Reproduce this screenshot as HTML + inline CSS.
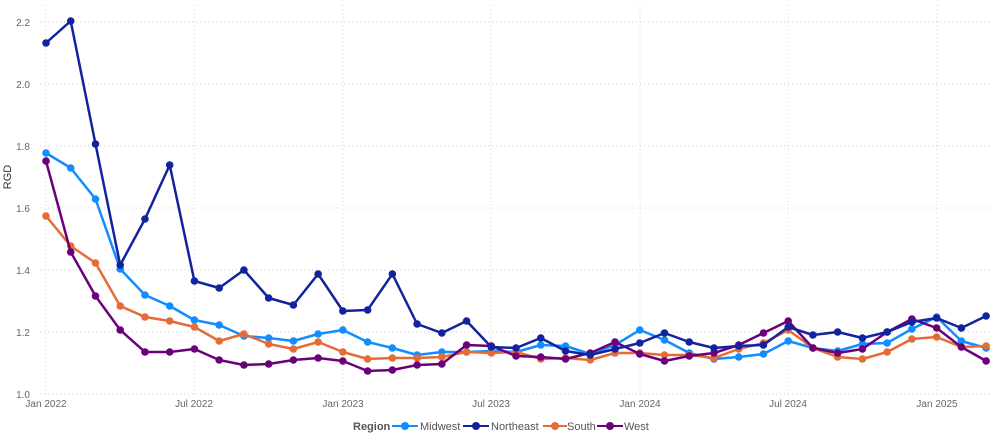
<!DOCTYPE html>
<html><head><meta charset="utf-8"><style>
body{margin:0;background:#fff;}
svg{display:block;font-family:"Liberation Sans",sans-serif;}
</style></head><body>
<svg id="c" width="1000" height="443" viewBox="0 0 1000 443">
<g stroke="#d0d0d0" stroke-dasharray="1,3" stroke-width="1">
<line x1="40" x2="992" y1="394" y2="394"/><line x1="40" x2="992" y1="332" y2="332"/><line x1="40" x2="992" y1="270" y2="270"/><line x1="40" x2="992" y1="208" y2="208"/><line x1="40" x2="992" y1="146" y2="146"/><line x1="40" x2="992" y1="84" y2="84"/><line x1="40" x2="992" y1="22" y2="22"/>
<line x1="46" x2="46" y1="5" y2="394"/><line x1="194" x2="194" y1="5" y2="394"/><line x1="343" x2="343" y1="5" y2="394"/><line x1="491" x2="491" y1="5" y2="394"/><line x1="640" x2="640" y1="5" y2="394"/><line x1="788" x2="788" y1="5" y2="394"/><line x1="937" x2="937" y1="5" y2="394"/>
</g>
<g fill="#666" font-size="10" text-anchor="end">
<text x="30" y="398">1.0</text><text x="30" y="336">1.2</text><text x="30" y="274">1.4</text><text x="30" y="212">1.6</text><text x="30" y="150">1.8</text><text x="30" y="88">2.0</text><text x="30" y="26">2.2</text>
</g>
<g fill="#666" font-size="10" text-anchor="middle">
<text x="46" y="407">Jan 2022</text><text x="194" y="407">Jul 2022</text><text x="343" y="407">Jan 2023</text><text x="491" y="407">Jul 2023</text><text x="640" y="407">Jan 2024</text><text x="788" y="407">Jul 2024</text><text x="937" y="407">Jan 2025</text>
</g>
<text transform="translate(11,177) rotate(-90)" font-size="11" fill="#333" text-anchor="middle">RGD</text>
<g id="series"></g>
<g font-size="11">
<text x="353" y="430" font-weight="bold" fill="#555">Region</text>
<line x1="392" x2="418" y1="426" y2="426" stroke="#118DFF" stroke-width="2"/><circle cx="405" cy="426" r="4" fill="#118DFF"/><text x="420" y="430" fill="#555">Midwest</text>
<line x1="463" x2="489" y1="426" y2="426" stroke="#12239E" stroke-width="2"/><circle cx="476" cy="426" r="4" fill="#12239E"/><text x="491" y="430" fill="#555">Northeast</text>
<line x1="543" x2="567" y1="426" y2="426" stroke="#E66C37" stroke-width="2"/><circle cx="555" cy="426" r="4" fill="#E66C37"/><text x="567" y="430" fill="#555">South</text>
<line x1="597" x2="623" y1="426" y2="426" stroke="#6B007B" stroke-width="2"/><circle cx="610" cy="426" r="4" fill="#6B007B"/><text x="624" y="430" fill="#555">West</text>
</g>
</svg>
<script>
var S=[
["#118DFF",[153,168,199,269,295,306,320,325,336,338,341,334,330,342,348,355,352,352,351,352,345,346,354,345,330,340,353,359,357,354,341,348,351,344,343,329,317,341,348]],
["#E66C37",[216,246,263,306,317,321,327,341,334,344,349,342,352,359,358,358,357,352,353,352,359,358,360,353,353,355,355,358,349,343,330,348,357,359,352,339,337,347,346]],
["#6B007B",[161,252,296,330,352,352,349,360,365,364,360,358,361,371,370,365,364,345,346,356,357,359,353,342,354,361,356,353,345,333,321,348,353,349,332,319,328,347,361]],
["#12239E",[43,21,144,265,219,165,281,288,270,298,305,274,311,310,274,324,333,321,347,348,338,351,355,349,343,333,342,348,346,345,327,335,332,338,332,322,318,328,316]]
];
var g=document.getElementById("series"),ns="http://www.w3.org/2000/svg";
S.forEach(function(s){var p=s[1].map(function(y,i){return (46+i*24.74).toFixed(1)+","+y}).join(" ");
var pl=document.createElementNS(ns,"polyline");pl.setAttribute("points",p);pl.setAttribute("fill","none");pl.setAttribute("stroke",s[0]);pl.setAttribute("stroke-width","2.5");pl.setAttribute("stroke-linejoin","round");g.appendChild(pl);
s[1].forEach(function(y,i){var c=document.createElementNS(ns,"circle");c.setAttribute("cx",46+i*24.74);c.setAttribute("cy",y);c.setAttribute("r","3.8");c.setAttribute("fill",s[0]);g.appendChild(c);});});
</script>
</body></html>
